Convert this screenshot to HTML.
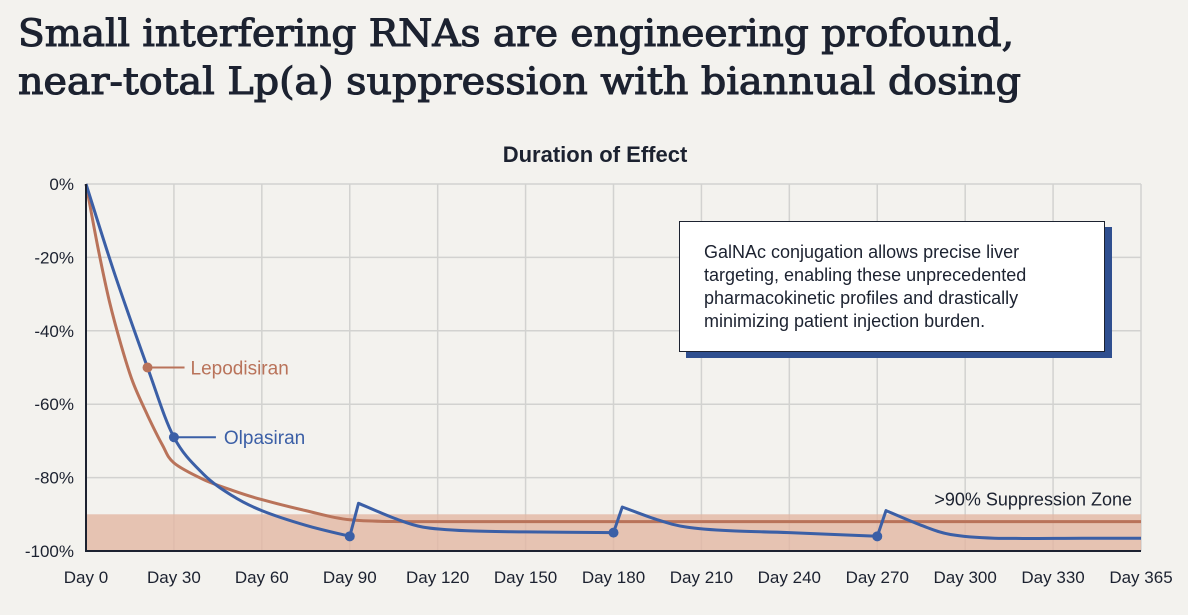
<!DOCTYPE html>
<html><head><meta charset="utf-8"><style>
body{margin:0;width:1188px;height:615px;background:#f3f2ee;overflow:hidden;font-family:"Liberation Sans",sans-serif;}
</style></head><body>
<svg id="chart" width="1188" height="615" style="position:absolute;left:0;top:0">
<g font-family="DejaVu Serif, serif" font-size="37" fill="#1c2230" stroke="#1c2230" stroke-width="1.1">
<text x="18" y="46" textLength="996" lengthAdjust="spacingAndGlyphs">Small interfering RNAs are engineering profound,</text>
<text x="18" y="94" textLength="1003" lengthAdjust="spacingAndGlyphs">near-total Lp(a) suppression with biannual dosing</text>
</g>
<text x="595" y="162" text-anchor="middle" font-size="22" font-weight="bold" fill="#1c2230">Duration of Effect</text>
<g id="grid"></g>
<g id="marks"></g>
<g id="axes"></g>
</svg>
<div style="position:absolute;left:679px;top:221px;width:426px;height:131px;background:#fff;border:1.5px solid #1c2230;box-shadow:7px 6px 0 #2f4f8f;box-sizing:border-box;padding:19px 0 0 24px;font-size:18px;line-height:23px;color:#1c2230;white-space:nowrap">GalNAc conjugation allows precise liver<br>targeting, enabling these unprecedented<br>pharmacokinetic profiles and drastically<br>minimizing patient injection burden.</div>
<script>
const xTickDays=[0,30,60,90,120,150,180,210,240,270,300,330,360];
const xTickLabels=["Day 0","Day 30","Day 60","Day 90","Day 120","Day 150","Day 180","Day 210","Day 240","Day 270","Day 300","Day 330","Day 365"];
const yTicks=[0,-20,-40,-60,-80,-100];
const yTickLabels=["0%","-20%","-40%","-60%","-80%","-100%"];
const olpDays=[0,10,21,30,40,50,60,75,90,93,105,115,130,150,180,183,195,205,220,240,270,273,285,295,310,340,365];
const olpVals=[0,-25,-50,-69,-79,-85,-89,-93,-96,-87,-91,-93.5,-94.5,-94.8,-95,-88,-91.5,-93.5,-94.5,-95,-96,-89,-93,-95.5,-96.5,-96.5,-96.5];
const olpJumps=[90,180,270];
const lepDays=[0,4,8,12,16,21,26,30,40,50,60,75,90,110,150,200,250,300,365];
const lepVals=[0,-17,-32,-44,-54,-63,-71,-76,-80.5,-83.5,-86,-89,-91.5,-92,-92,-92,-92,-92,-92];
const olpDoseDays=[30,90,180,270];
const olpDoseVals=[-69,-96,-95,-96];
const lepLabelDay=[21], lepLabelVal=[-50];
const zoneTop=-90, zoneBottom=-100;
const X0=86,X1=1141,Y0=184,Y1=551;
const x=d=>X0+Math.min(d,360)/360*(X1-X0);
const y=v=>Y0+(-v)/100*(Y1-Y0);
const NS="http://www.w3.org/2000/svg";
function mk(tag,attrs,parent,text){const e=document.createElementNS(NS,tag);for(const k in attrs)e.setAttribute(k,attrs[k]);if(text!==undefined)e.textContent=text;parent.appendChild(e);return e;}
const grid=document.getElementById('grid'),marks=document.getElementById('marks'),axes=document.getElementById('axes');
yTicks.forEach((t,i)=>{const l=mk('line',{x1:X0,x2:X1,y1:y(t),y2:y(t),stroke:'#d2d2d0','stroke-width':1.5},grid);


const tx=mk('text',{x:74,y:y(t)+6,'text-anchor':'end','font-size':17,fill:'#1c2230'},axes,yTickLabels[i]);

});
xTickDays.forEach((d,i)=>{if(i>0){const l=mk('line',{x1:x(d),x2:x(d),y1:Y0,y2:Y1,stroke:'#d2d2d0','stroke-width':1.5},grid);

}
const tx=mk('text',{x:Math.min(x(d),1145),y:583,'text-anchor':'middle','font-size':17,fill:'#1c2230'},axes,xTickLabels[i]);

});
const zone=mk('rect',{x:X0,y:y(zoneTop),width:X1-X0,height:y(zoneBottom)-y(zoneTop),fill:'#e2b7a3',opacity:0.8},grid);


const zl=mk('text',{x:1132,y:y(zoneTop)-9,'text-anchor':'end','font-size':18,fill:'#1c2230'},axes,'>90% Suppression Zone');


const ax=mk('path',{d:`M${X0},${Y0}V${Y1}H${X1}`,fill:'none',stroke:'#1c2230','stroke-width':2},axes);


const clamp=(v,a,b)=>Math.max(Math.min(a,b),Math.min(Math.max(a,b),v));
function spline(pts){let d='';for(let i=0;i<pts.length;i++){const p=pts[i];if(i===0){d+='M'+p[0].toFixed(1)+','+p[1].toFixed(1);continue;}
const p0=pts[Math.max(i-2,0)],p1=pts[i-1],p3=pts[Math.min(i+1,pts.length-1)];
const c1=[clamp(p1[0]+(p[0]-p0[0])/6,p1[0],p[0]),p1[1]+(p[1]-p0[1])/6],c2=[clamp(p[0]-(p3[0]-p1[0])/6,p1[0],p[0]),p[1]-(p3[1]-p1[1])/6];
d+=`C${c1[0].toFixed(1)},${c1[1].toFixed(1)} ${c2[0].toFixed(1)},${c2[1].toFixed(1)} ${p[0].toFixed(1)},${p[1].toFixed(1)}`;}return d;}
function line(days,vals,jumps,color,name){const segs=[[]];days.forEach((t,i)=>{segs[segs.length-1].push([x(t),y(vals[i])]);if(jumps.includes(t)){segs.push([[x(t),y(vals[i])]]);}});
let d='';segs.forEach((s,k)=>{if(k>0&&s.length>1){d+='L'+s[1][0].toFixed(1)+','+s[1][1].toFixed(1);s=s.slice(1);d+=spline(s).replace(/^M[^C]*/,'');}else d+=spline(s);});
const p=mk('path',{d,fill:'none',stroke:color,'stroke-width':3,'stroke-linejoin':'round'},marks);

}
line(lepDays,lepVals,[],'#b9735a','lepodisiran-line');
line(olpDays,olpVals,olpJumps,'#3b5fa6','olpasiran-line');
olpDoseDays.forEach((d,i)=>{const c=mk('circle',{cx:x(d),cy:y(olpDoseVals[i]),r:5,fill:'#3b5fa6'},marks);

});
const lc=mk('circle',{cx:x(lepLabelDay[0]),cy:y(lepLabelVal[0]),r:5,fill:'#b9735a'},marks);


mk('line',{x1:x(lepLabelDay[0]),x2:x(lepLabelDay[0])+37,y1:y(lepLabelVal[0]),y2:y(lepLabelVal[0]),stroke:'#b9735a','stroke-width':2},marks);
const lt=mk('text',{x:x(lepLabelDay[0])+43,y:y(lepLabelVal[0])+7,'font-size':19,fill:'#b9735a'},marks,'Lepodisiran');


mk('line',{x1:x(30),x2:x(30)+42,y1:y(-69),y2:y(-69),stroke:'#3b5fa6','stroke-width':2},marks);
const ot=mk('text',{x:x(30)+50,y:y(-69)+7,'font-size':19,fill:'#3b5fa6'},marks,'Olpasiran');


</script>
</body></html>
